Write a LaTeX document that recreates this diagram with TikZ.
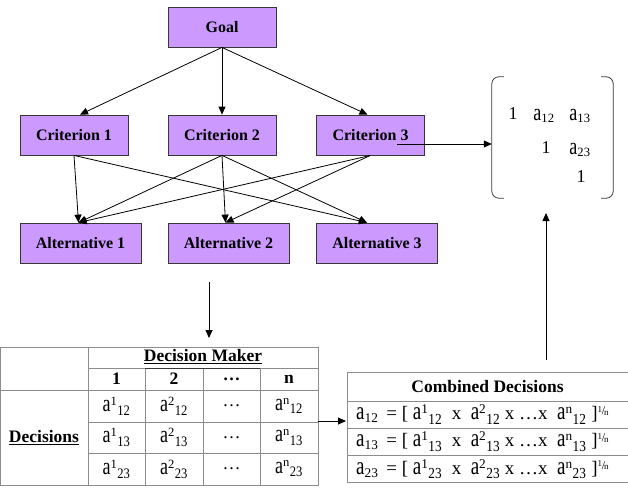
\documentclass[tikz,border=0pt]{standalone}
\usepackage{fontspec}
\setmainfont{Liberation Serif}
\usepackage{graphicx}
\usepackage{tikz}
\usetikzlibrary{arrows.meta, positioning, calc}
\definecolor{lilac}{RGB}{204,153,255}
\definecolor{edge}{RGB}{55,55,55}
\definecolor{rule}{RGB}{140,140,140}
\newcommand{\ta}{\scalebox{1}[1.33]{a}}
\newcommand{\dm}[2]{\ta\textsuperscript{#1}\textsubscript{\scalebox{1}[1.15]{#2}}}
\newcommand{\nroot}{\raisebox{5pt}{\fontsize{12}{12}\selectfont\raisebox{2.5pt}{\fontsize{9}{9}\selectfont 1}\kern-0.3pt/\kern-1pt\raisebox{-0.5pt}{\fontsize{9}{9}\selectfont n}}}

\begin{document}
\begin{tikzpicture}[x=1pt, y=-1pt,
  box/.style={draw=edge, fill=lilac, line width=0.8pt, minimum height=40pt, inner sep=0pt,
    font=\fontsize{16}{18}\selectfont\bfseries},
  arr/.style={-{Triangle[length=8pt,width=7pt]}, line width=0.8pt},
  cell/.style={font=\fontsize{18}{20}\selectfont, inner sep=0pt},
  head/.style={font=\fontsize{17.5}{20}\selectfont\bfseries, inner sep=0pt},
  mtx/.style={font=\fontsize{18}{20}\selectfont, inner sep=0pt}]
  \useasboundingbox (0,0) rectangle (628,487);
  % Hierarchy
  \node[box, minimum width=108pt] (goal) at (222,27) {Goal};
  \node[box, minimum width=108pt] (crit1) at (74,135) {Criterion 1};
  \node[box, minimum width=108pt] (crit2) at (222,135) {Criterion 2};
  \node[box, minimum width=108pt] (crit3) at (370.5,135) {Criterion 3};
  \node[box, minimum width=121pt] (alt1) at (80.5,243) {Alternative 1};
  \node[box, minimum width=121pt] (alt2) at (228.5,243) {Alternative 2};
  \node[box, minimum width=121pt] (alt3) at (377,243) {Alternative 3};
  \coordinate (in1) at ([xshift=-2pt]alt1.north);
  \coordinate (in2) at ([xshift=-3pt]alt2.north);
  \coordinate (in3) at ([xshift=-10pt]alt3.north);
  \draw[arr] (goal.south) -- ([xshift=6pt]crit1.north);
  \draw[arr] (goal.south) -- (crit2.north);
  \draw[arr] (goal.south) -- ([xshift=-3pt]crit3.north);
  \foreach \c/\a in {crit1/in1, crit1/in3, crit2/in1, crit2/in2, crit2/in3, crit3/in1, crit3/in2}
    \draw[arr] (\c.south) -- (\a);
  % Comparison matrix
  \node[minimum width=121pt, minimum height=121pt, inner sep=0pt] (mat) at (552.5,137.5) {};
  \draw[edge, line width=0.8pt, rounded corners=7pt] ([xshift=12pt]mat.north west) -| (mat.south west) -- ([xshift=12pt]mat.south west);
  \draw[edge, line width=0.8pt, rounded corners=7pt] ([xshift=-12pt]mat.north east) -| (mat.south east) -- ([xshift=-12pt]mat.south east);
  \node[mtx] (m11) at (513,114) {1};
  \node[mtx] (m12) at (544,116) {\ta\textsubscript{12}};
  \node[mtx] (m13) at (580,116) {\ta\textsubscript{13}};
  \node[mtx] (m22) at (546,148) {1};
  \node[mtx] (m23) at (580,150) {\ta\textsubscript{23}};
  \node[mtx] (m33) at (581,177) {1};
  \coordinate (c3out) at (397,144);
  \draw[arr] (c3out) -- (c3out -| mat.west);
  % Arrows between parts
  \coordinate (dn0) at (209,282);
  \coordinate (dn1) at (209,338);
  \draw[arr] (dn0) -- (dn1);
  \coordinate (up0) at (546,360);
  \coordinate (up1) at (546,213);
  \draw[arr] (up0) -- (up1);
  % Decision table
  \draw[rule, line width=0.8pt] (0.5,347) rectangle (318,485);
  \draw[rule, line width=0.8pt] (88,347) -- (88,485);
  \draw[rule, line width=0.8pt] (88,368) -- (318,368);
  \draw[rule, line width=0.8pt] (0.5,390) -- (318,390);
  \draw[rule, line width=0.8pt] (88,422) -- (318,422);
  \draw[rule, line width=0.8pt] (88,453) -- (318,453);
  \foreach \x in {145,203,260}
    \draw[rule, line width=0.8pt] (\x,368) -- (\x,485);
  \draw[edge, line width=0.8pt] (145,368) -- (260,368);
  \node[head] (dmk) at (203,357) {\underline{Decision Maker}};
  \node[head] (dec) at (44,438) {\underline{Decisions}};
  \foreach \x/\t in {116.5/1, 174/2, 231.5/\dots, 289/n}
    \node[head] at (\x,379) {\t};
  \foreach \y/\s in {406/12, 437.5/13, 469/23} {
    \node[cell] at (116.5,\y) {\dm{1}{\s}};
    \node[cell] at (174,\y) {\dm{2}{\s}};
    \node[cell] at (231.5,\y) {\dots};
    \node[cell] at (289,\y) {\dm{n}{\s}};
  }
  \coordinate (tabr) at (318,421);
  \draw[arr] (tabr) -- (346,421);
  % Combined decisions
  \node[draw=rule, line width=0.8pt, minimum width=281pt, minimum height=29pt, inner sep=0pt, head] (comb) at (487.5,386.5) {Combined Decisions};
  \foreach \y/\s in {414.5/12, 441.5/13, 469/23} {
    \draw[rule, line width=0.8pt] (347,\y-13.5) rectangle (628,\y+13.5);
    \node[cell, font=\fontsize{19}{20}\selectfont, anchor=west] at (356,\y) {\ta\textsubscript{\s}\, = [ \dm{1}{\s}\ \ x\ \ \dm{2}{\s} x \dots x\ \ \dm{n}{\s} ]\nroot};
  }
\end{tikzpicture}
\end{document}
